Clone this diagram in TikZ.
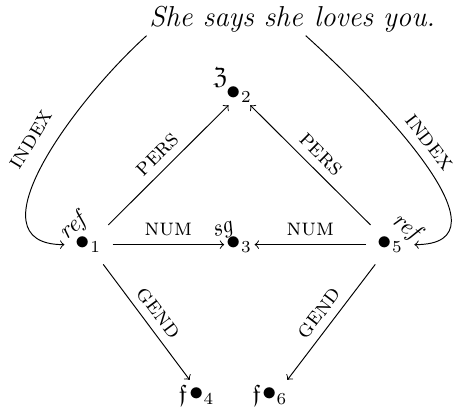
\documentclass[tikz,border=0pt]{standalone}
\usepackage{amsmath,amssymb}
\usetikzlibrary{positioning}

\newcommand{\fsdot}{\text{\large$\bullet$}}

\begin{document}
\begin{tikzpicture}[
    dot/.style={inner sep=#1, xshift=2.25pt, yshift=-1.1pt},
    dot/.default=3pt,
    arrow/.style={->},
    feat/.style={font=\scshape, sloped, above},
    tag/.style={inner sep=0pt, font=\itshape},
    sent/.style={font=\large\itshape, inner sep=1pt}
]
\useasboundingbox (-3.427,-2.504) rectangle (3.251,3.544);

% sentence
\node[sent, anchor=base west] (s1) at (-1.28,3.15) {She says she};
\node[sent, base right=2.3pt of s1] (s2) {loves you.};

% structure nodes
\node[dot=4.6pt] (n1) at (-2.21,0) {$\fsdot_1$};
\node[dot=0.9pt] (n3) at (0,0) {$\fsdot_3$};
\node[dot=4.6pt] (n5) at (2.21,0) {$\fsdot_5$};
\node[dot=0.9pt] (n2) at (0,2.2) {$\fsdot_2$};
\node[dot=3.2pt] (n4) at (-0.55,-2.22) {$\fsdot_4$};
\node[dot=3.2pt] (n6) at (0.52,-2.22) {$\fsdot_6$};

% types
\node[tag, rotate=40] (t1) at (-2.36,0.22) {ref};
\node[tag, rotate=20] (t3) at (-0.16,0.15) {sg};
\node[tag, rotate=-40] (t5) at (2.52,0.22) {ref};
\node[tag] (t2) at (-0.2,2.41) {$\mathfrak{Z}$};
\node[tag] (t4) at (-0.75,-2.25) {$\mathfrak{f}$};
\node[tag] (t6) at (0.33,-2.25) {$\mathfrak{f}$};

% features
\draw[arrow] (n1) -- node[feat] (p1) {pers} (n2);
\draw[arrow] (n5) -- node[feat] (p5) {pers} (n2);
\draw[arrow] (n1) -- node[feat] (u1) {num} (n3);
\draw[arrow] (n5) -- node[feat] (u5) {num} (n3);
\draw[arrow] (n1) -- node[feat] (g1) {gend} (n4);
\draw[arrow] (n5) -- node[feat] (g5) {gend} (n6);

% index links
\draw[arrow] (s1.south west) to[out=222, in=180, looseness=1.1] node[feat, above=3pt, pos=0.45] (i1) {index} (n1);
\draw[arrow] (s1.south east) to[out=-42, in=0, looseness=1.1] node[feat, above=0.5pt, pos=0.45] (i5) {index} (n5);
\end{tikzpicture}
\end{document}
